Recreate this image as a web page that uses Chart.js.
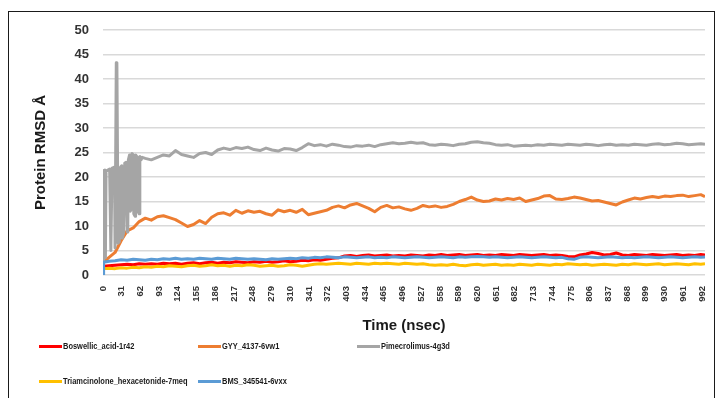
<!DOCTYPE html>
<html>
<head>
<meta charset="utf-8">
<script src="https://cdn.jsdelivr.net/npm/chart.js@4/dist/chart.umd.min.js"></script>
<style>
  html, body { margin: 0; padding: 0; background: #fff; }
  #wrap { position: relative; width: 717px; height: 398px; overflow: hidden; }
  #frame { position: absolute; left: 8px; top: 11px; width: 707px; height: 420px; border: 1px solid #1a1a1a; box-sizing: border-box; }
  #chart { position: absolute; left: 0; top: 0; }
  .item { position: absolute; height: 12px; display: flex; align-items: center; white-space: nowrap;
          font: bold 9px "Liberation Sans", Arial, sans-serif; color: #1a1a1a; }
  .swatch { width: 23px; height: 3px; margin-right: 1px; flex: none; }
  .label { display: inline-block; transform: scaleX(0.83); transform-origin: left center; }
</style>
</head>
<body>
<div id="wrap">
  <div id="frame"></div>
  <canvas id="chart" width="717" height="398"></canvas>
  <div id="legend"></div>
</div>
<script>
// Simulation time (ns) shared by the steady trajectories
const timeNs = [0, 1, 10, 20, 30, 40, 50, 60, 70, 80, 90, 100, 110, 120, 130, 140, 150, 160, 170, 180, 190,
  200, 210, 220, 230, 240, 250, 260, 270, 280, 290, 300, 310, 320, 330, 340, 350, 360, 370, 380, 390,
  400, 410, 420, 430, 440, 450, 460, 470, 480, 490, 500, 510, 520, 530, 540, 550, 560, 570, 580, 590,
  600, 610, 620, 630, 640, 650, 660, 670, 680, 690, 700, 710, 720, 730, 740, 750, 760, 770, 780, 790,
  800, 810, 820, 830, 840, 850, 860, 870, 880, 890, 900, 910, 920, 930, 940, 950, 960, 970, 980, 990, 997];

const boswellicAcid = [1.6, 1.8, 1.9, 2.0, 2.1, 2.2, 2.1, 2.3, 2.2, 2.3, 2.2, 2.4, 2.3, 2.4, 2.2, 2.4, 2.5, 2.3, 2.5, 2.6, 2.4,
  2.6, 2.5, 2.7, 2.6, 2.5, 2.7, 2.6, 2.8, 2.6, 2.7, 2.9, 2.7, 2.8, 3.0, 2.9, 3.1, 3.0, 3.2, 3.4, 3.5,
  3.9, 4.0, 3.8, 4.0, 4.1, 3.9, 4.0, 4.1, 3.9, 4.0, 3.9, 4.1, 4.0, 3.9, 4.1, 4.0, 4.2, 4.0, 4.1, 4.2,
  4.0, 4.1, 4.2, 4.0, 4.1, 4.0, 4.2, 4.1, 4.0, 4.2, 4.1, 4.0, 4.1, 4.2, 4.0, 4.1, 4.0, 3.8, 3.7, 4.1,
  4.3, 4.6, 4.4, 4.1, 4.2, 4.5, 4.1, 4.0, 4.2, 4.1, 4.0, 4.2, 4.1, 4.0, 4.1, 4.2, 4.0, 4.1, 4.0, 4.2, 4.1];

const gyy4137 = [2.5, 2.6, 3.6, 4.6, 7.0, 9.0, 9.6, 10.9, 11.6, 11.2, 11.9, 12.1, 11.7, 11.3, 10.6, 9.9, 10.3, 11.1, 10.5, 11.8, 12.5,
  12.7, 12.2, 13.2, 12.6, 13.1, 12.8, 13.0, 12.5, 12.2, 13.3, 12.9, 13.2, 12.8, 13.4, 12.3, 12.6, 12.9, 13.2, 13.8, 14.1,
  13.7, 14.3, 14.6, 14.1, 13.6, 12.9, 13.8, 14.2, 13.7, 13.9, 13.5, 13.2, 13.6, 14.2, 13.9, 14.1, 13.8, 14.0, 14.4, 15.0,
  15.4, 15.9, 15.3, 15.0, 15.1, 15.5, 15.3, 15.6, 15.4, 15.7, 15.0, 15.3, 15.6, 16.1, 16.2, 15.5, 15.4, 15.6, 15.9, 15.7,
  15.4, 15.1, 15.2, 14.9, 14.6, 14.3, 14.9, 15.3, 15.7, 15.5, 15.8, 16.0, 15.8, 16.1, 16.0, 16.2, 16.3, 16.0, 16.2, 16.4, 16.0];

const triamcinolone = [1.0, 1.3, 1.4, 1.3, 1.5, 1.4, 1.6, 1.5, 1.7, 1.6, 1.8, 1.7, 1.9, 1.8, 1.7, 1.9, 2.0, 1.8, 1.9, 2.1, 1.9,
  2.0, 1.8, 2.0, 1.9, 2.1, 2.0, 1.8, 1.9, 2.0, 1.8, 1.9, 2.1, 2.0, 1.8, 2.0, 2.2, 2.3, 2.2, 2.3, 2.4,
  2.3, 2.2, 2.4, 2.3, 2.2, 2.4, 2.3, 2.4, 2.3, 2.2, 2.4, 2.3, 2.2, 2.3, 2.1, 2.0, 2.1, 2.0, 2.2, 2.0,
  1.9, 2.1, 2.2, 2.0, 2.1, 2.2, 2.0, 2.1, 2.0, 2.2, 2.1, 2.0, 2.2, 2.1, 2.0, 2.2, 2.1, 2.3, 2.2, 2.1,
  2.2, 2.0, 2.1, 2.2, 2.1, 2.0, 2.2, 2.1, 2.3, 2.2, 2.1, 2.2, 2.3, 2.1, 2.2, 2.3, 2.2, 2.1, 2.3, 2.2, 2.3];

const bms345541 = [0.0, 2.6, 2.8, 2.9, 3.1, 3.0, 3.2, 3.1, 3.0, 3.2, 3.1, 3.3, 3.2, 3.4, 3.2, 3.3, 3.2, 3.4, 3.3, 3.2, 3.4,
  3.3, 3.2, 3.4, 3.3, 3.2, 3.3, 3.2, 3.1, 3.3, 3.2, 3.3, 3.4, 3.3, 3.5, 3.4, 3.6, 3.5, 3.7, 3.6, 3.5,
  3.7, 3.6, 3.5, 3.6, 3.7, 3.5, 3.6, 3.5, 3.7, 3.6, 3.5, 3.6, 3.7, 3.6, 3.5, 3.6, 3.7, 3.6, 3.5, 3.7,
  3.6, 3.7, 3.8, 3.7, 3.6, 3.7, 3.6, 3.5, 3.6, 3.7, 3.6, 3.5, 3.6, 3.7, 3.6, 3.5, 3.6, 3.3, 3.2, 3.6,
  3.7, 3.6, 3.5, 3.6, 3.7, 3.6, 3.5, 3.6, 3.5, 3.6, 3.7, 3.6, 3.5, 3.6, 3.7, 3.6, 3.5, 3.6, 3.7, 3.6, 3.7];

// Pimecrolimus complex: dense sampling over the unstable first ~65 ns, then the steady grid
const pimeTimeNs = [0, 1, 3, 4, 5, 11, 13, 15, 19, 20, 22, 23, 25, 27, 29, 31, 32, 34, 36, 38, 40, 41, 42, 44,
  45, 47, 48, 50, 51, 53, 54, 57, 58, 60, 61, 63, 65, 70, 80, 90, 100, 110, 120, 130, 140, 150, 160, 170, 180, 190,
  200, 210, 220, 230, 240, 250, 260, 270, 280, 290, 300, 310, 320, 330, 340, 350, 360, 370, 380, 390,
  400, 410, 420, 430, 440, 450, 460, 470, 480, 490, 500, 510, 520, 530, 540, 550, 560, 570, 580, 590,
  600, 610, 620, 630, 640, 650, 660, 670, 680, 690, 700, 710, 720, 730, 740, 750, 760, 770, 780, 790,
  800, 810, 820, 830, 840, 850, 860, 870, 880, 890, 900, 910, 920, 930, 940, 950, 960, 970, 980, 990, 997];

const pimecrolimus = [2.7, 21.3, 21.4, 3.5, 21.2, 21.6, 5.0, 21.8, 22.0, 5.5, 43.3, 43.0, 6.5, 6.8, 22.0, 22.3, 7.5, 8.5, 22.8, 23.0, 8.8, 9.0, 23.5, 24.5,
  13.0, 13.5, 24.8, 24.5, 12.5, 12.0, 24.5, 24.0, 13.0, 12.5, 24.2, 23.5, 24.0, 23.8, 23.5, 24.0, 24.5, 24.3, 25.4, 24.6, 24.3, 24.0, 24.8, 25.0, 24.6, 25.5,
  25.9, 25.6, 26.0, 25.8, 26.1, 25.6, 25.4, 25.9, 25.5, 25.3, 25.8, 25.7, 25.4, 26.0, 26.8, 26.4, 26.6, 26.3, 26.7, 26.5,
  26.2, 26.1, 26.4, 26.3, 26.5, 26.2, 26.6, 26.8, 27.0, 26.8, 26.9, 27.1, 26.9, 27.0, 26.6, 26.5, 26.7, 26.6, 26.4, 26.7,
  26.8, 27.1, 27.2, 27.0, 26.9, 26.6, 26.5, 26.6, 26.3, 26.4, 26.5, 26.4, 26.6, 26.5, 26.7, 26.6, 26.5, 26.7, 26.6, 26.5,
  26.7, 26.6, 26.4, 26.6, 26.7, 26.5, 26.6, 26.5, 26.7, 26.6, 26.5, 26.7, 26.8, 26.6, 26.7, 26.9, 26.8, 26.6, 26.7, 26.8, 26.7];

const xTickLabels = [0, 31, 62, 93, 124, 155, 186, 217, 248, 279, 310, 341, 372, 403, 434, 465, 496,
  527, 558, 589, 620, 651, 682, 713, 744, 775, 806, 837, 868, 899, 930, 961, 992];

const seriesNames = ['Boswellic_acid-1r42', 'GYY_4137-6vw1', 'Pimecrolimus-4g3d',
  'Triamcinolone_hexacetonide-7meq', 'BMS_345541-6vxx'];
const seriesColors = ['#ff0000', '#ed7d31', '#a5a5a5', '#ffc000', '#5b9bd5'];

const pairUp = (xs, ys) => xs.map((x, i) => ({ x: x, y: ys[i] }));
const seriesData = [
  pairUp(timeNs, boswellicAcid),
  pairUp(timeNs, gyy4137),
  pairUp(pimeTimeNs, pimecrolimus),
  pairUp(timeNs, triamcinolone),
  pairUp(timeNs, bms345541)
];
// later series are painted above earlier ones
const drawOrder = [4, 3, 2, 1, 0];

const FONT = '"Liberation Sans", Arial, sans-serif';
const INK = '#333333';

new Chart(document.getElementById('chart'), {
  type: 'line',
  data: {
    datasets: seriesNames.map((name, i) => ({
      label: name,
      data: seriesData[i],
      borderColor: seriesColors[i],
      backgroundColor: seriesColors[i],
      borderWidth: 3,
      pointRadius: 0,
      tension: 0,
      borderJoinStyle: 'round',
      order: drawOrder[i]
    }))
  },
  options: {
    responsive: false,
    animation: false,
    events: [],
    layout: { padding: { left: 0, right: 12, top: 30, bottom: 58 } },
    plugins: { legend: { display: false }, tooltip: { enabled: false } },
    scales: {
      x: {
        type: 'linear',
        min: 0,
        max: 997,
        afterBuildTicks: (s) => { s.ticks = xTickLabels.map(v => ({ value: v })); },
        afterFit: (s) => { s.height = 65; },
        ticks: {
          autoSkip: false, minRotation: 90, maxRotation: 90, padding: 3,
          color: INK, font: { family: FONT, size: 9.5, weight: 'bold' },
          callback: (v) => String(v)
        },
        grid: { display: false },
        border: { display: false },
        title: {
          display: true, text: 'Time (nsec)', color: '#1a1a1a',
          font: { family: FONT, size: 15, weight: 'bold' },
          padding: { top: 0, bottom: 5 }
        }
      },
      y: {
        min: 0,
        max: 50,
        afterFit: (s) => { s.width = 103; },
        ticks: { stepSize: 5, padding: 14, color: INK, font: { family: FONT, size: 13, weight: 'bold' } },
        grid: { color: '#d9d9d9', lineWidth: 1.5, drawTicks: false },
        border: { display: false },
        title: {
          display: true, text: 'Protein RMSD Å', color: '#1a1a1a',
          font: { family: FONT, size: 15, weight: 'bold' },
          padding: { top: 32, bottom: 0 }
        }
      }
    }
  }
});

// Legend laid out in two rows, three columns
const legendSlots = [[39, 340], [198, 340], [357, 340], [39, 375], [198, 375]];
const legend = document.getElementById('legend');
seriesNames.forEach((name, i) => {
  const item = document.createElement('div');
  item.className = 'item';
  item.style.left = legendSlots[i][0] + 'px';
  item.style.top = legendSlots[i][1] + 'px';
  const sw = document.createElement('span');
  sw.className = 'swatch';
  sw.style.background = seriesColors[i];
  const tx = document.createElement('span');
  tx.className = 'label';
  tx.textContent = name;
  item.appendChild(sw);
  item.appendChild(tx);
  legend.appendChild(item);
});
</script>
</body>
</html>
